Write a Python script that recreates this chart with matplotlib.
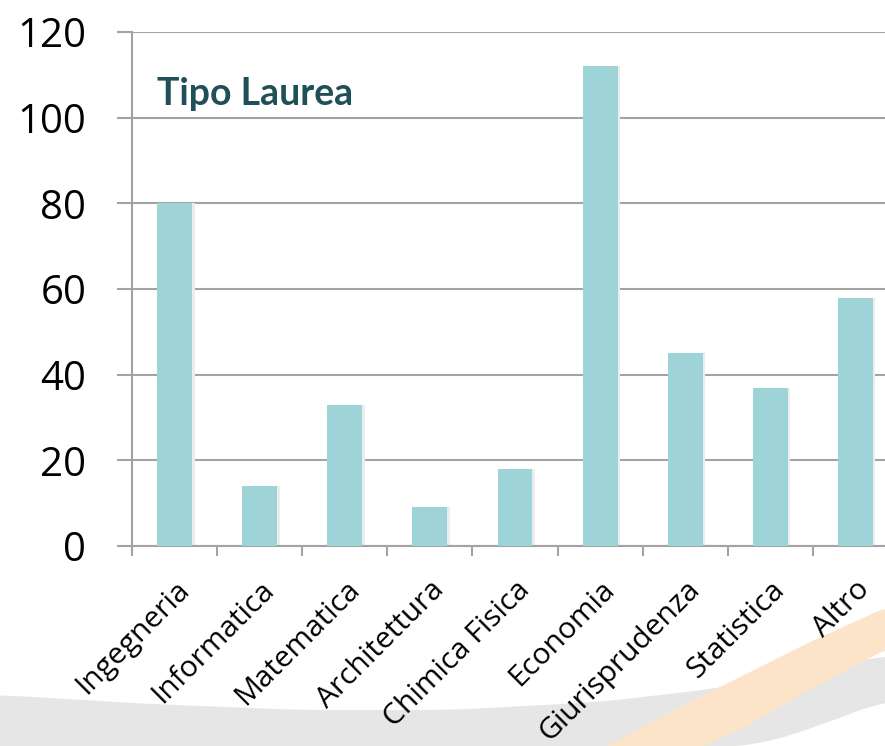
import numpy as np
import matplotlib
matplotlib.use("Agg")
import matplotlib.pyplot as plt
from matplotlib.patches import Polygon

categories = ["Ingegneria", "Informatica", "Matematica", "Architettura",
              "Chimica Fisica", "Economia", "Giurisprudenza", "Statistica", "Altro"]
values = [80, 14, 33, 9, 18, 112, 45, 37, 58]
yticks = [0, 20, 40, 60, 80, 100, 120]

BAR = "#9ed4d8"
GRID = "#a3a3a3"
W, H = 885, 746

fig = plt.figure(figsize=(W / 100, H / 100), dpi=100)
fig.patch.set_facecolor("white")


def band(top, bottom, color):
    # top / bottom: (px, py) in image pixels, linear interp then light smoothing
    def curve(pts):
        pts = np.array(pts, dtype=float)
        xs = np.linspace(pts[0, 0], pts[-1, 0], 200)
        ys = np.interp(xs, pts[:, 0], pts[:, 1])
        k = np.ones(15) / 15
        ys = np.convolve(np.pad(ys, 7, mode="edge"), k, mode="valid")
        return xs, ys
    tx, ty = curve(top)
    bx, by = curve(bottom)
    xy = np.column_stack([np.r_[tx, bx[::-1]] / W, 1 - np.r_[ty, by[::-1]] / H])
    fig.patches.append(Polygon(xy, closed=True, transform=fig.transFigure,
                               facecolor=color, edgecolor="none", zorder=0))


# decorative slide swoosh
band([(0, 695), (150, 704), (300, 710), (450, 710), (600, 702), (720, 688),
      (800, 674), (885, 655)],
     [(0, 750), (650, 750), (760, 745), (830, 722), (885, 700)], "#e6e6e6")
band([(600, 750), (670, 712), (740, 677), (810, 642), (885, 608)],
     [(695, 750), (740, 730), (800, 695), (885, 650)], "#fce4c9")

ax = fig.add_axes([132 / W, 200 / H, 766 / W, 514 / H])
ax.set_zorder(1)
ax.set_facecolor("none")
x = np.arange(len(categories))

# soft shadow then bars
ax.bar(x + 0.02, values, width=0.43, color="#ececec", zorder=2)
ax.bar(x, values, width=0.41, color=BAR, zorder=3)

ax.set_xlim(-0.5, len(categories) - 0.5)
ax.set_ylim(0, 120)
ax.set_yticks(yticks)
ax.yaxis.grid(True, color=GRID, linewidth=1.5, zorder=1)
ax.set_axisbelow(True)

for s in ["top", "right"]:
    ax.spines[s].set_visible(False)
for s in ["left", "bottom"]:
    ax.spines[s].set_color(GRID)
    ax.spines[s].set_linewidth(1.5)

ax.tick_params(axis="y", direction="out", length=11, width=1.5, color=GRID,
               pad=22, labelsize=29, labelcolor="black")
ax.set_yticklabels([str(v) for v in yticks], family="Open Sans")

ax.set_xticks(x)
ax.set_xticks(np.arange(-0.5, len(categories), 1), minor=True)
ax.tick_params(axis="x", which="major", length=0, pad=21)
ax.tick_params(axis="x", which="minor", direction="out", length=7, width=1.5, color=GRID)
ax.set_xticklabels(categories, rotation=45, ha="right", rotation_mode="anchor",
                   fontsize=21.5, family="Open Sans")

ax.text(0.032, 0.88, "Tipo Laurea", transform=ax.transAxes, fontsize=27,
        fontweight="bold", family="Lato", color="#1f4f57", va="center")

fig.savefig("out.png", dpi=100, facecolor=fig.get_facecolor())
